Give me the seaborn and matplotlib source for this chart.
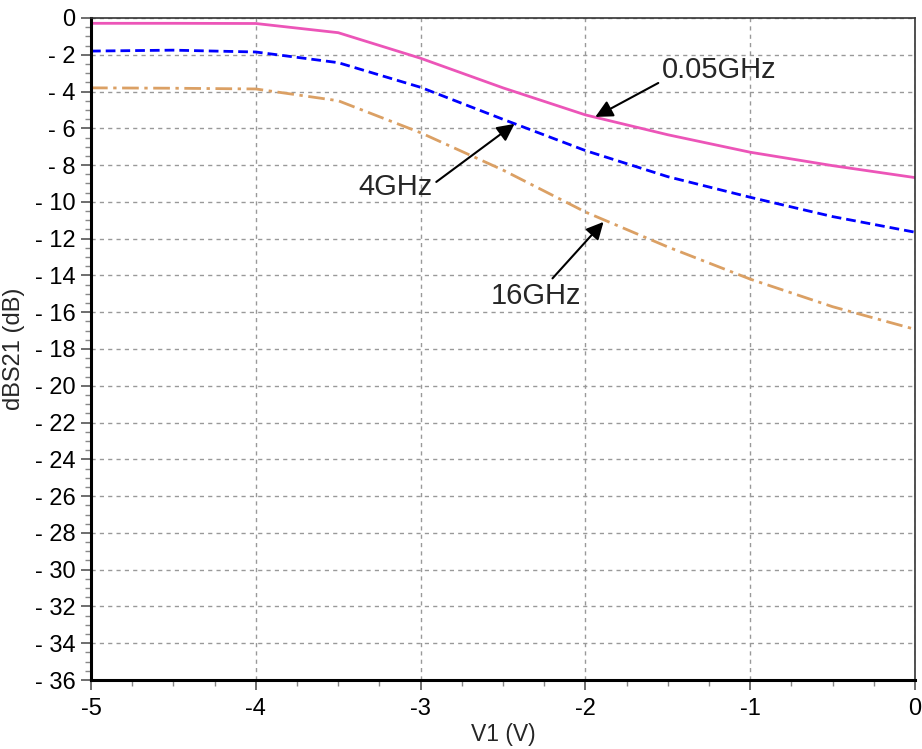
import numpy as np
import pandas as pd
import matplotlib
matplotlib.use("Agg")
import matplotlib.pyplot as plt
from matplotlib.ticker import MultipleLocator, FuncFormatter
import seaborn as sns

# ---- data ----
v1 = [-5.0, -4.5, -4.0, -3.5, -3.0, -2.5, -2.0, -1.5, -1.0, -0.5, 0.0]
s21_005ghz = [-0.29, -0.29, -0.30, -0.80, -2.19, -3.80, -5.27, -6.35, -7.30, -8.03, -8.68]
s21_4ghz = [-1.80, -1.75, -1.85, -2.43, -3.77, -5.51, -7.21, -8.63, -9.75, -10.8, -11.65]
s21_16ghz = [-3.80, -3.82, -3.86, -4.50, -6.24, -8.27, -10.55, -12.45, -14.2, -15.7, -16.93]

series_names = ["0.05GHz", "4GHz", "16GHz"]
series_values = [s21_005ghz, s21_4ghz, s21_16ghz]
colors = ["#EC55B8", "#0000FF", "#DBA064"]
dashes = ["-", (0, (3.5, 1.8)), (0, (6, 2, 1.2, 2))]

xticks = [-5, -4, -3, -2, -1, 0]
yticks = list(range(0, -37, -2))

sns.set_theme(style="white")
plt.rcParams["font.family"] = ["Liberation Sans", "DejaVu Sans"]

fig = plt.figure(figsize=(9.22, 7.49), dpi=100)
ax = fig.add_axes([0.0987, 0.0921, 0.8937, 0.8839])

for name, vals, c, ls in zip(series_names, series_values, colors, dashes):
    df = pd.DataFrame({"V1": v1, "dBS21": vals})
    sns.lineplot(data=df, x="V1", y="dBS21", ax=ax, color=c, lw=2.0,
                 linestyle=ls, legend=False)

ax.set_xlim(-5, 0)
ax.set_ylim(-36, 0)
ax.set_xticks(xticks)
ax.set_yticks(yticks)
ax.xaxis.set_minor_locator(MultipleLocator(0.25))
ax.yaxis.set_minor_locator(MultipleLocator(0.5))
ax.xaxis.set_major_formatter(FuncFormatter(lambda v, p: "0" if abs(v) < 1e-9 else f"-{abs(int(round(v)))}"))
ax.yaxis.set_major_formatter(FuncFormatter(lambda v, p: "0" if abs(v) < 1e-9 else f"- {abs(int(round(v)))}"))

ax.grid(True, which="major", color="#999999", linestyle=(0, (3, 3)), lw=1.0)
ax.tick_params(axis="both", which="major", labelsize=17, length=7, width=1.2,
               direction="out", color="#555555", labelcolor="black")
ax.tick_params(axis="both", which="minor", length=4, width=1.0, direction="out",
               color="#888888")
ax.tick_params(axis="x", which="both", bottom=True)
ax.tick_params(axis="y", which="both", left=True)
ax.tick_params(axis="x", pad=6)
ax.tick_params(axis="y", pad=4)

for side in ["left", "bottom"]:
    ax.spines[side].set_color("black")
    ax.spines[side].set_linewidth(2.2)
for side in ["top", "right"]:
    ax.spines[side].set_color("#333333")
    ax.spines[side].set_linewidth(1.2)

ax.set_xlabel("V1 (V)", fontsize=16.5, labelpad=2)
ax.set_ylabel("dBS21 (dB)", fontsize=17, labelpad=7)

arrow = dict(arrowstyle="-|>", color="black", lw=1.5, mutation_scale=26,
             shrinkA=0, shrinkB=0)
ax.annotate("0.05GHz", xy=(-1.94, -5.38), xytext=(-1.19, -2.83), fontsize=21,
            ha="center", va="center", arrowprops=dict(arrow, relpos=(0.0, 0.1)))
ax.annotate("4GHz", xy=(-2.43, -5.76), xytext=(-3.15, -9.2), fontsize=21,
            ha="center", va="center", arrowprops=dict(arrow, relpos=(1.0, 0.6)))
ax.annotate("16GHz", xy=(-1.89, -11.09), xytext=(-2.30, -15.1), fontsize=21,
            ha="center", va="center", arrowprops=dict(arrow, relpos=(0.65, 1.0)))

fig.savefig("out.png", dpi=100)
